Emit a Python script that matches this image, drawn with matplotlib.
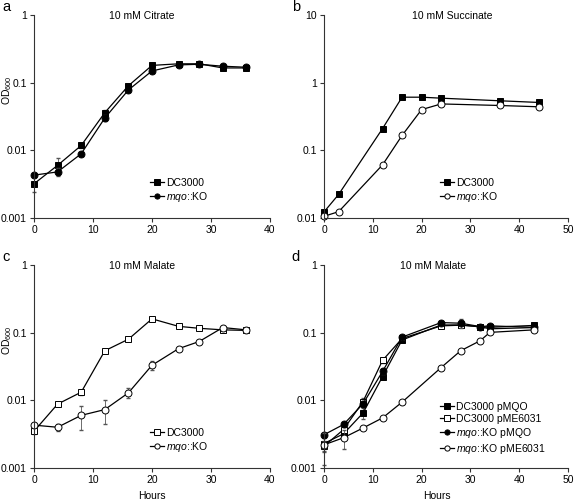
import matplotlib
matplotlib.use("Agg")
import matplotlib.pyplot as plt
import numpy as np

plt.rcParams['font.family'] = ['Liberation Sans', 'DejaVu Sans']
plt.rcParams['font.size'] = 7.5
plt.rcParams['mathtext.fontset'] = 'custom'
plt.rcParams['mathtext.rm'] = 'Liberation Sans'
plt.rcParams['mathtext.it'] = 'Liberation Sans:italic'

# panel a: 10 mM citrate
a_hours = [0, 4, 8, 12, 16, 20, 24.5, 28, 32, 36]
a_dc3000 = [0.0032, 0.006, 0.0118, 0.036, 0.09, 0.18, 0.19, 0.19, 0.165, 0.165]
a_dc3000_err = [0.0008, 0.0017, 0.0008, 0.003, 0.006, 0.01, 0.01, 0.01, 0.008, 0.008]
a_ko = [0.0043, 0.0048, 0.0089, 0.030, 0.078, 0.149, 0.183, 0.187, 0.175, 0.169]
a_ko_err = [0.0003, 0.0006, 0.0006, 0.003, 0.005, 0.008, 0.008, 0.008, 0.008, 0.008]

# panel b: 10 mM succinate
b_hours = [0, 3, 12, 16, 20, 24, 36, 44]
b_dc3000 = [0.0123, 0.0223, 0.21, 0.61, 0.61, 0.59, 0.54, 0.51]
b_ko = [0.0106, 0.0124, 0.061, 0.166, 0.40, 0.485, 0.46, 0.44]

# panel c: 10 mM malate
c_hours = [0, 4, 8, 12, 16, 20, 24.5, 28, 32, 36]
c_dc3000 = [0.0035, 0.0088, 0.0132, 0.054, 0.080, 0.16, 0.124, 0.116, 0.11, 0.108]
c_dc3000_err = [0.0003, 0.0005, 0.0012, 0.003, 0.005, 0.008, 0.006, 0.005, 0.005, 0.005]
c_ko = [0.0043, 0.0040, 0.0060, 0.0073, 0.0129, 0.033, 0.058, 0.074, 0.119, 0.110]
c_ko_err = [0.0003, 0.0005, 0.0023, 0.0029, 0.0022, 0.005, 0.003, 0.003, 0.005, 0.005]

# panel d: 10 mM malate, complementation
d_hours = [0, 4, 8, 12, 16, 24, 28, 32, 34, 43]
d_dc_pmqo = [0.0023, 0.0032, 0.0065, 0.0225, 0.078, 0.13, 0.13, 0.123, 0.12, 0.128]
d_dc_pmqo_err = [0.0005, 0.0004, 0.0012, 0.002, 0.004, 0.006, 0.006, 0.005, 0.005, 0.005]
d_dc_pme = [0.0021, 0.0037, 0.0096, 0.039, 0.082, 0.126, 0.129, 0.122, 0.114, 0.119]
d_dc_pme_err = [0.0004, 0.0004, 0.0012, 0.003, 0.004, 0.006, 0.006, 0.005, 0.005, 0.005]
d_ko_pmqo = [0.0031, 0.0044, 0.0089, 0.0267, 0.086, 0.141, 0.138, 0.123, 0.126, 0.12]
d_ko_pmqo_err = [0.0002, 0.0003, 0.0008, 0.002, 0.004, 0.006, 0.02, 0.005, 0.005, 0.005]
d_ko_pme = [0.0022, 0.0028, 0.0039, 0.0055, 0.0094, 0.0305, 0.054, 0.076, 0.101, 0.11]
d_ko_pme_err = [0.0011, 0.0009, 0.0003, 0.0003, 0.0005, 0.002, 0.003, 0.003, 0.004, 0.005]

fig = plt.figure(figsize=(5.76, 5.01), dpi=100)
W, H = 576, 501


def make_axes(left, top, right, bottom):
    return fig.add_axes([left / W, 1 - bottom / H, (right - left) / W, (bottom - top) / H])


def style(ax, xmax, ymin, ymax):
    ax.set_yscale('log')
    ax.set_xlim(0, xmax)
    ax.set_ylim(ymin, ymax)
    ax.set_xticks(np.arange(0, xmax + 1, 10))
    ax.spines['top'].set_visible(False)
    ax.spines['right'].set_visible(False)
    for s in ('left', 'bottom'):
        ax.spines[s].set_linewidth(0.8)
        ax.spines[s].set_color('#333333')
    ax.minorticks_off()
    ax.tick_params(direction='out', length=3, width=0.8, labelsize=7.5, pad=2, color='#333333')
    ticks = [v for v in [0.001, 0.01, 0.1, 1, 10] if ymin <= v <= ymax]
    ax.set_yticks(ticks)
    ax.set_yticklabels([('%g' % v) for v in ticks])


def series(ax, x, y, err, marker, filled, label):
    if err is not None:
        ax.errorbar(x, y, yerr=err, fmt='none', ecolor='#555555', elinewidth=0.6,
                    capsize=1.2, clip_on=False)
    ax.plot(x, y, color='black', lw=0.9, marker=marker, ms=5,
            mfc='black' if filled else 'white', mec='black', mew=0.7,
            label=label, clip_on=False)


def legend(ax, x0, y0):
    ax.legend(loc='lower left', bbox_to_anchor=(x0, y0), frameon=False, fontsize=7.5,
              handlelength=1.4, handletextpad=0.15, labelspacing=0.2, borderpad=0,
              borderaxespad=0, markerscale=0.75)


ax_a = make_axes(34, 15, 270, 218)
series(ax_a, a_hours, a_dc3000, a_dc3000_err, 's', True, 'DC3000')
series(ax_a, a_hours, a_ko, a_ko_err, 'o', True, r'$\it{mqo}$::KO')
style(ax_a, 40, 0.001, 1)
legend(ax_a, 0.49, 0.07)

ax_b = make_axes(324, 15, 568, 218)
series(ax_b, b_hours, b_dc3000, None, 's', True, 'DC3000')
series(ax_b, b_hours, b_ko, None, 'o', False, r'$\it{mqo}$::KO')
style(ax_b, 50, 0.01, 10)
legend(ax_b, 0.475, 0.07)

ax_c = make_axes(34, 265, 270, 468)
series(ax_c, c_hours, c_dc3000, c_dc3000_err, 's', False, 'DC3000')
series(ax_c, c_hours, c_ko, c_ko_err, 'o', False, r'$\it{mqo}$::KO')
style(ax_c, 40, 0.001, 1)
legend(ax_c, 0.49, 0.07)

ax_d = make_axes(324, 265, 568, 468)
series(ax_d, d_hours, d_dc_pmqo, d_dc_pmqo_err, 's', True, 'DC3000 pMQO')
series(ax_d, d_hours, d_dc_pme, d_dc_pme_err, 's', False, 'DC3000 pME6031')
series(ax_d, d_hours, d_ko_pmqo, d_ko_pmqo_err, 'o', True, r'$\it{mqo}$::KO pMQO')
series(ax_d, d_hours, d_ko_pme, d_ko_pme_err, 'o', False, r'$\it{mqo}$::KO pME6031')
style(ax_d, 50, 0.001, 1)
legend(ax_d, 0.475, 0.06)

for title, tx, ty in [('10 mM Citrate', 142, 16), ('10 mM Succinate', 452, 16),
                      ('10 mM Malate', 142, 266), ('10 mM Malate', 433, 266)]:
    fig.text(tx / W, 1 - ty / H, title, ha='center', va='center', fontsize=7.5)

for letter, px, py in [('a', 6, 7), ('b', 296, 7), ('c', 6, 257), ('d', 296, 257)]:
    fig.text(px / W, 1 - py / H, letter, ha='center', va='center', fontsize=10.5)

for py in (90, 340):
    fig.text(7 / W, 1 - py / H, r'OD$_{600}$', rotation=90, ha='center', va='center', fontsize=7.5)

for px in (152, 437):
    fig.text(px / W, 1 - 496 / H, 'Hours', ha='center', va='center', fontsize=7.5)

fig.savefig('out.png', dpi=100)
